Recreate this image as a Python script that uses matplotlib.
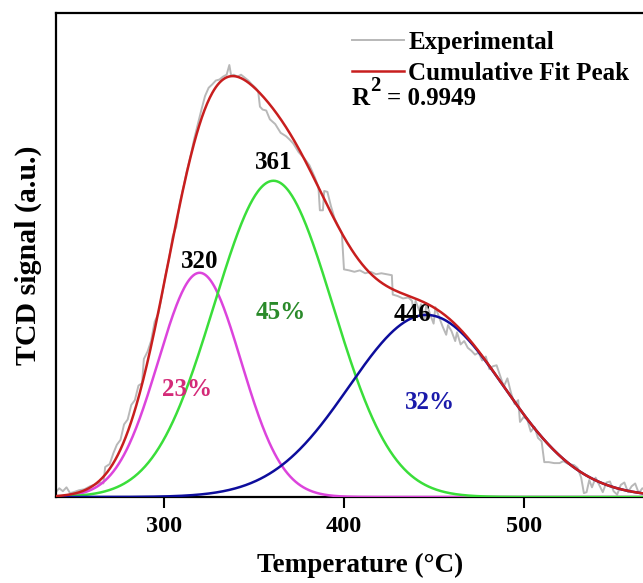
import numpy as np
import matplotlib
matplotlib.use('Agg')
import matplotlib.pyplot as plt
from matplotlib.transforms import offset_copy

plt.rcParams['font.family'] = ['Liberation Serif', 'DejaVu Serif']
plt.rcParams['font.weight'] = 'bold'

# fitted peaks: centre (deg C), height (a.u.), width sigma
peak_centers = [320, 361, 446]
peak_heights = [0.463, 0.653, 0.376]
peak_sigmas = [23, 33, 43]
peak_shares = ['23%', '45%', '32%']
peak_colors = ['#dc44dc', '#3ade3a', '#0d0d9c']
share_colors = ['#d42a78', '#2a8a2a', '#1a1aaa']

# experimental TCD trace
exp_temp = [240, 242, 244, 246, 248, 250, 253, 256, 259, 262, 265, 266.5, 267.5, 270,
            272, 274, 276, 278, 280, 282, 284, 286, 288, 289, 291, 293, 295, 297, 299,
            301, 303, 305, 307, 309, 311, 313, 315, 317, 319, 321, 323, 325, 327, 329,
            331, 333, 335, 336.5, 337.5, 339, 341, 343, 345, 347, 349, 351, 352.5, 353.5,
            355, 357, 359, 362, 365, 368, 370, 372, 375, 378, 381, 384, 386, 386.8,
            388.5, 389.2, 391, 393, 395, 397, 399, 400.2, 403, 406, 409, 412, 415, 418,
            421, 424, 426.8, 427.3, 430, 433, 436, 438, 439, 440, 442, 443, 445, 446,
            448, 450, 451, 453, 455, 457, 458, 460, 462, 463, 465, 467, 469, 471, 473,
            475, 477, 479, 481, 483, 485, 487, 489, 491, 493, 495, 497, 498, 500, 502,
            504, 506, 508, 510, 511.5, 514, 517, 520, 522, 525, 528, 530, 532, 533.5,
            535, 536.5, 538, 540, 542, 544, 546, 548, 550, 552, 554, 556, 558, 560, 562,
            564, 566, 570, 575]
exp_signal = [0.010, 0.018, 0.012, 0.020, 0.008, 0.010, 0.014, 0.016, 0.022, 0.026, 0.030,
              0.028, 0.062, 0.068, 0.090, 0.108, 0.118, 0.150, 0.160, 0.190, 0.200, 0.230,
              0.235, 0.285, 0.300, 0.322, 0.362, 0.378, 0.415, 0.458, 0.492, 0.538, 0.558,
              0.608, 0.640, 0.675, 0.705, 0.740, 0.770, 0.800, 0.828, 0.845, 0.852, 0.860,
              0.862, 0.868, 0.872, 0.892, 0.870, 0.872, 0.868, 0.872, 0.866, 0.860, 0.852,
              0.845, 0.838, 0.806, 0.800, 0.798, 0.780, 0.770, 0.752, 0.745, 0.738, 0.730,
              0.712, 0.700, 0.685, 0.660, 0.640, 0.592, 0.592, 0.632, 0.630, 0.600, 0.575,
              0.560, 0.545, 0.470, 0.468, 0.465, 0.468, 0.462, 0.465, 0.460, 0.462, 0.460,
              0.458, 0.418, 0.415, 0.410, 0.412, 0.405, 0.380, 0.405, 0.385, 0.398, 0.365,
              0.400, 0.378, 0.358, 0.392, 0.372, 0.352, 0.335, 0.355, 0.342, 0.322, 0.340,
              0.315, 0.322, 0.308, 0.302, 0.294, 0.298, 0.282, 0.290, 0.264, 0.270, 0.272,
              0.250, 0.228, 0.245, 0.215, 0.192, 0.200, 0.155, 0.165, 0.160, 0.135, 0.145,
              0.122, 0.115, 0.072, 0.072, 0.070, 0.070, 0.074, 0.068, 0.066, 0.060, 0.040,
              0.008, 0.010, 0.035, 0.020, 0.040, 0.025, 0.010, 0.030, 0.032, 0.012, 0.005,
              0.025, 0.030, 0.010, 0.022, 0.028, 0.008, 0.018, 0.012, 0.010]

r_squared = '0.9949'


def gauss(x, c, h, s):
    return h * np.exp(-(x - c) ** 2 / (2 * s ** 2))


temp = np.linspace(240, 580, 700)
components = [gauss(temp, c, h, s) for c, h, s in zip(peak_centers, peak_heights, peak_sigmas)]
cumulative = np.sum(components, axis=0)

fig = plt.figure(figsize=(6.43, 5.83), dpi=100)
ax = fig.add_axes([0.0866, 0.1475, 0.946, 0.8307])

ax.plot(exp_temp, exp_signal, color='#b8b8b8', lw=1.4, label='Experimental', zorder=2)
for comp, col in zip(components, peak_colors):
    ax.plot(temp, comp, color=col, lw=1.8, zorder=3)
ax.plot(temp, cumulative, color='#c81e1e', lw=1.8, label='Cumulative Fit Peak', zorder=4)

# peak position labels
ax.text(320, 0.486, '320', ha='center', va='center', fontsize=18, fontweight='bold')
ax.text(361, 0.69, '361', ha='center', va='center', fontsize=18, fontweight='bold')
ax.text(438, 0.376, '446', ha='center', va='center', fontsize=18, fontweight='bold')

share_pos = [(313, 0.221), (365, 0.38), (448, 0.195)]
for (x, y), txt, col in zip(share_pos, peak_shares, share_colors):
    ax.text(x, y, txt, ha='center', va='center', fontsize=18, fontweight='bold', color=col)

leg = ax.legend(loc='upper left', bbox_to_anchor=(0.487, 0.962), frameon=False,
                fontsize=18, handlelength=2.1, handletextpad=0.15, labelspacing=0.3,
                borderaxespad=0, borderpad=0)

# R^2 written as R + raised 2 + value
ax.text(0.487, 0.822, 'R', transform=ax.transAxes, fontsize=18, fontweight='bold',
        va='center', ha='left')
ax.text(0.487, 0.822, '2', transform=offset_copy(ax.transAxes, fig=fig, x=13, y=9, units='points'),
        fontsize=15, fontweight='bold', va='center', ha='left')
ax.text(0.487, 0.822, '= ' + r_squared,
        transform=offset_copy(ax.transAxes, fig=fig, x=25, y=0, units='points'),
        fontsize=18, fontweight='bold', va='center', ha='left')

ax.set_xlim(240, 578)
ax.set_ylim(0, 1.0)
ax.set_xticks([300, 400, 500])
ax.set_yticks([])
ax.tick_params(axis='x', direction='out', length=8, width=1.5, labelsize=17.5, pad=6)
for sp in ax.spines.values():
    sp.set_linewidth(1.6)

ax.set_xlabel('Temperature (°C)', fontsize=19.5, fontweight='bold', labelpad=11)
ax.set_ylabel('TCD signal (a.u.)', fontsize=21.5, fontweight='bold', labelpad=10)

plt.savefig('out.png', dpi=100)
